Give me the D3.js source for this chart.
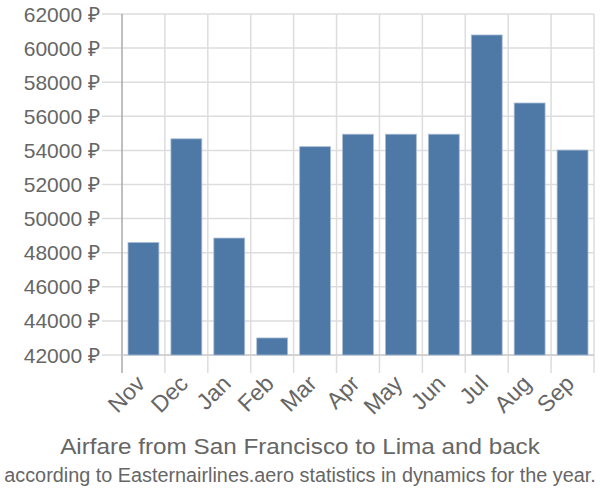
<!DOCTYPE html>
<html><head><meta charset="utf-8">
<script src="https://cdn.jsdelivr.net/npm/d3@7"></script>
<style>body{margin:0;background:#fff}svg{font-family:"Liberation Sans",Arial,sans-serif}</style>
</head><body><svg id="c" width="600" height="500"></svg>
<script>
const months = ["Nov","Dec","Jan","Feb","Mar","Apr","May","Jun","Jul","Aug","Sep"];
const prices = [48600,54680,48860,43000,54220,54950,54950,54950,60770,56780,54020];
const yTicks = [42000,44000,46000,48000,50000,52000,54000,56000,58000,60000,62000];
const title = "Airfare from San Francisco to Lima and back";
const subtitle = "according to Easternairlines.aero statistics in dynamics for the year.";

const svg = d3.select("#c");
const L = 122, R = 594, T = 14, B = 355;
const x = d3.scaleBand().domain(months).range([L, R]).paddingInner(0.28).paddingOuter(0.14);
const y = d3.scaleLinear().domain([42000, 62000]).range([B, T]);
const bounds = d3.range(months.length + 1).map(i => L + i * (R - L) / months.length);

// horizontal grid
svg.append("g").selectAll("line").data(yTicks).join("line")
  .attr("x1", 102).attr("x2", R).attr("y1", d => y(d)).attr("y2", d => y(d))
  .attr("stroke", "#ddd").attr("stroke-width", 1.5);
// vertical grid
svg.append("g").selectAll("line").data(bounds).join("line")
  .attr("x1", d => d).attr("x2", d => d).attr("y1", T).attr("y2", 373)
  .attr("stroke", (d, i) => i === 0 ? "#aaa" : "#ddd").attr("stroke-width", 1.5);
svg.append("line").attr("x1", L).attr("x2", R).attr("y1", B).attr("y2", B).attr("stroke", "#ccc").attr("stroke-width", 1.5);

// bars
svg.append("g").selectAll("rect").data(prices).join("rect")
  .attr("x", (d, i) => x(months[i])).attr("width", x.bandwidth())
  .attr("y", d => y(d)).attr("height", d => B - y(d))
  .attr("fill", "#4e79a7").attr("stroke", "#a9bdd6").attr("stroke-width", 0.8);

// y labels
svg.append("g").selectAll("text").data(yTicks).join("text")
  .attr("x", 100).attr("y", d => y(d)).attr("dy", "0.36em").attr("text-anchor", "end")
  .attr("fill", "#666").attr("font-size", 21).text(d => d + " ₽");

// x labels
svg.append("g").selectAll("text").data(months).join("text")
  .attr("transform", d => `translate(${x(d) + x.bandwidth() / 2 + 3},${385}) rotate(-45)`)
  .attr("text-anchor", "end")
  .attr("fill", "#666").attr("font-size", 23).text(d => d);

function fitText(txt, cy, size, width) {
  const t = svg.append("text").attr("x", 0).attr("y", 0).attr("text-anchor", "middle")
    .attr("fill", "#666").attr("font-size", size).text(txt);
  const w = t.node().getComputedTextLength();
  t.attr("transform", `translate(300,${cy}) scale(${width / w},1)`);
}
fitText(title, 454, 23, 480);
fitText(subtitle, 482, 21, 592);
</script></body></html>
